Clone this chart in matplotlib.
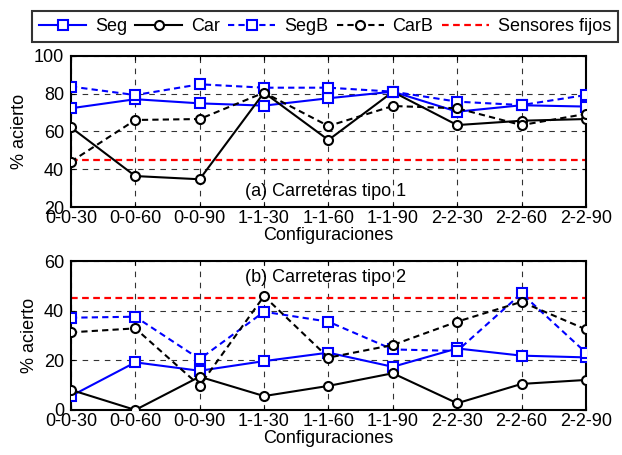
import matplotlib.pyplot as plt
import numpy as np

plt.rcParams['font.family'] = ['Liberation Sans', 'DejaVu Sans']

configs = ['0-0-30', '0-0-60', '0-0-90', '1-1-30', '1-1-60', '1-1-90', '2-2-30', '2-2-60', '2-2-90']

# (a) Carreteras tipo 1
seg_a = [72.3, 77.1, 74.9, 73.7, 77.6, 81.1, 70.5, 73.9, 73.2]
car_a = [62.2, 36.4, 34.7, 80.6, 55.5, 81.0, 63.4, 65.7, 66.6]
segb_a = [83.8, 79.3, 85.0, 83.2, 83.2, 81.1, 75.8, 74.0, 79.3]
carb_a = [44.0, 66.1, 66.6, 80.6, 62.9, 73.5, 72.3, 63.4, 69.3]

# (b) Carreteras tipo 2
seg_b = [5.6, 19.2, 15.8, 19.7, 23.1, 17.4, 24.8, 21.9, 21.2]
car_b = [8.1, 0.0, 13.4, 5.6, 9.7, 14.8, 2.7, 10.5, 12.1]
segb_b = [37.2, 37.6, 20.5, 39.6, 35.6, 24.4, 23.8, 47.0, 23.1]
carb_b = [31.3, 32.9, 9.8, 45.9, 21.1, 26.2, 35.6, 43.6, 32.5]

sensores_fijos = 45

x = np.arange(len(configs))

fig = plt.figure(figsize=(6.22, 4.55), dpi=100)
ax1 = fig.add_axes([0.114, 0.545, 0.828, 0.332])
ax2 = fig.add_axes([0.114, 0.099, 0.828, 0.327])

def draw(ax, seg, car, segb, carb):
    ms = 6.5
    ax.axhline(sensores_fijos, color='red', ls='--', lw=1.6, dashes=(3, 2), label='Sensores fijos', zorder=2)
    ax.plot(x, seg, color='blue', ls='-', lw=1.5, marker='s', ms=ms, mfc='white', mec='blue', mew=1.5, label='Seg', zorder=3)
    ax.plot(x, car, color='black', ls='-', lw=1.5, marker='o', ms=ms, mfc='white', mec='black', mew=1.5, label='Car', zorder=3)
    ax.plot(x, segb, color='blue', ls='--', lw=1.5, dashes=(3, 2), marker='s', ms=ms, mfc='white', mec='blue', mew=1.5, label='SegB', zorder=3)
    ax.plot(x, carb, color='black', ls='--', lw=1.5, dashes=(3, 2), marker='o', ms=ms, mfc='white', mec='black', mew=1.5, label='CarB', zorder=3)
    ax.set_xlim(0, len(configs) - 1)
    ax.set_xticks(x)
    ax.set_xticklabels(configs)
    ax.grid(True, color='black', ls='--', lw=0.8, dashes=(5, 5), alpha=0.8)
    ax.tick_params(labelsize=13, direction='in', length=3, top=True, right=True)
    ax.tick_params(axis='y', pad=5)
    ax.tick_params(axis='x', pad=2)
    ax.set_ylabel('% acierto', fontsize=13, labelpad=4)
    ax.set_xlabel('Configuraciones', fontsize=13, labelpad=0)
    for s in ax.spines.values():
        s.set_linewidth(1.5)

draw(ax1, seg_a, car_a, segb_a, carb_a)
ax1.set_ylim(20, 100)
ax1.set_yticks([20, 40, 60, 80, 100])
ax1.text(3.96, 28, '(a) Carreteras tipo 1', fontsize=13, ha='center', va='center')

draw(ax2, seg_b, car_b, segb_b, carb_b)
ax2.set_ylim(0, 60)
ax2.set_yticks([0, 20, 40, 60])
ax2.text(3.96, 53.6, '(b) Carreteras tipo 2', fontsize=13, ha='center', va='center')

h, l = ax1.get_legend_handles_labels()
order = [1, 2, 3, 4, 0]
leg = fig.legend([h[i] for i in order], [l[i] for i in order], ncol=5, loc='upper left',
                 bbox_to_anchor=(0.0514, 0.976), fontsize=13, frameon=True, fancybox=False,
                 edgecolor='black', handlelength=2.6, handletextpad=0.5, columnspacing=0.45,
                 borderpad=0.4, borderaxespad=0)
leg.get_frame().set_linewidth(1.5)

plt.savefig('out.png', dpi=100)
